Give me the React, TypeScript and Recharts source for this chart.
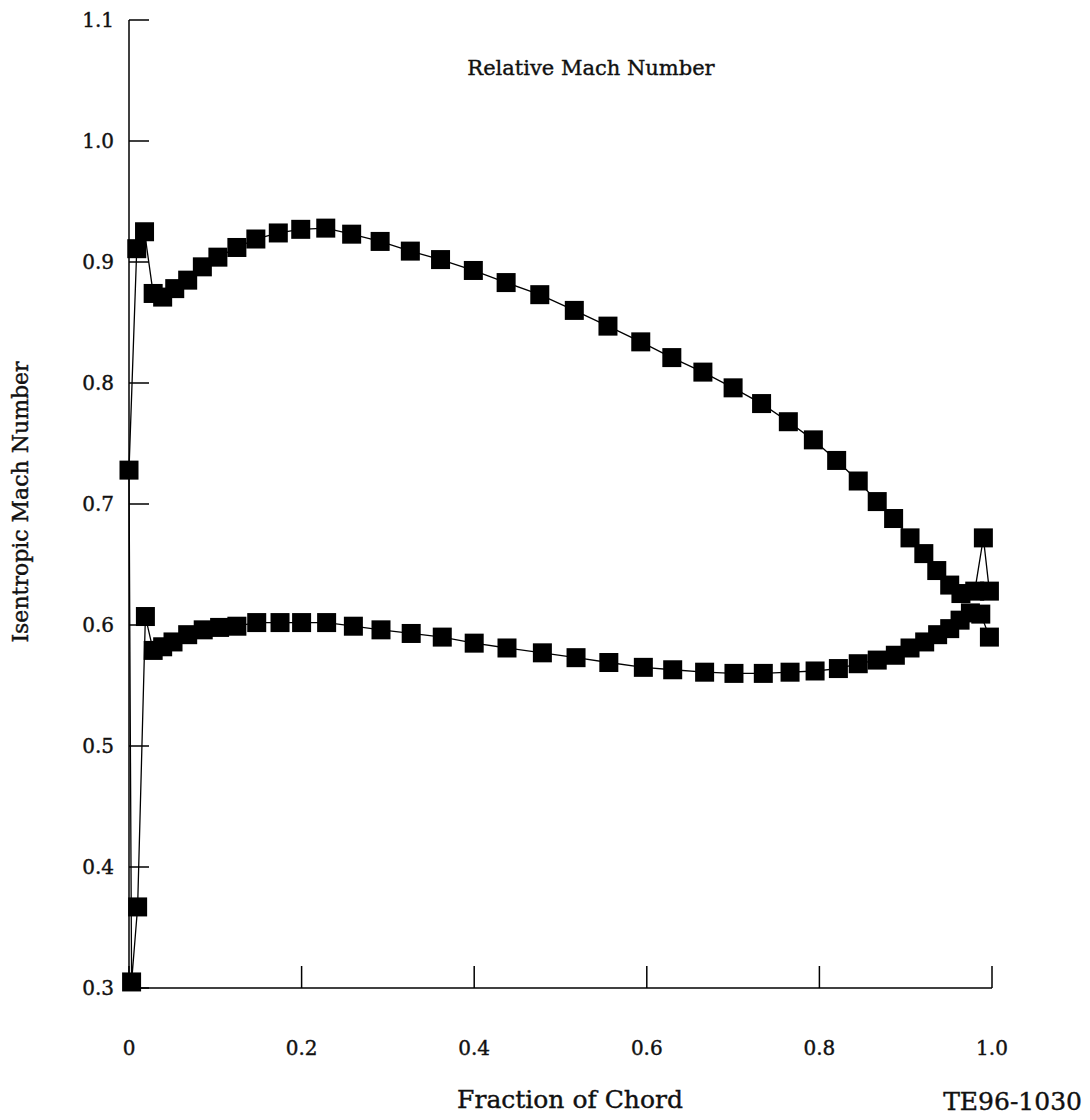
import { LineChart, Line, XAxis, YAxis } from "recharts";

// pressure side, leading edge -> trailing edge
const pressureChord = [
  0.019, 0.028, 0.039, 0.051, 0.068, 0.086, 0.105, 0.125, 0.148, 0.175, 0.2,
  0.229, 0.26, 0.292, 0.327, 0.363, 0.4, 0.438, 0.479, 0.518, 0.556, 0.596,
  0.63, 0.667, 0.701, 0.735, 0.766, 0.795, 0.822, 0.845, 0.867, 0.888, 0.905,
  0.922, 0.937, 0.951, 0.963, 0.975, 0.987, 0.997,
];
const pressureMach = [
  0.607, 0.579, 0.582, 0.586, 0.592, 0.596, 0.598, 0.599, 0.602, 0.602, 0.602,
  0.602, 0.599, 0.596, 0.593, 0.59, 0.585, 0.581, 0.577, 0.573, 0.569, 0.565,
  0.563, 0.561, 0.56, 0.56, 0.561, 0.562, 0.564, 0.568, 0.571, 0.575, 0.581,
  0.586, 0.592, 0.597, 0.604, 0.61, 0.609, 0.59,
];

// around the leading edge, from pressure side to suction side
const leadingChord = [0.01, 0.003, 0.0];
const leadingMach = [0.367, 0.305, 0.728];

// suction side, leading edge -> trailing edge
const suctionChord = [
  0.009, 0.018, 0.028, 0.039, 0.053, 0.068, 0.085, 0.103, 0.125, 0.147, 0.173,
  0.199, 0.228, 0.258, 0.291, 0.326, 0.361, 0.399, 0.437, 0.476, 0.516, 0.555,
  0.593, 0.629, 0.665, 0.7, 0.733, 0.764, 0.793, 0.82, 0.845, 0.867, 0.886,
  0.905, 0.921, 0.936, 0.951, 0.964, 0.98, 0.99, 0.997,
];
const suctionMach = [
  0.911, 0.925, 0.874, 0.871, 0.878, 0.885, 0.896, 0.904, 0.912, 0.919, 0.924,
  0.927, 0.928, 0.923, 0.917, 0.909, 0.902, 0.893, 0.883, 0.873, 0.86, 0.847,
  0.834, 0.821, 0.809, 0.796, 0.783, 0.768, 0.753, 0.736, 0.719, 0.702, 0.688,
  0.672, 0.659, 0.645, 0.633, 0.626, 0.628, 0.672, 0.628,
];

const xTicks = [0, 0.2, 0.4, 0.6, 0.8, 1.0];
const yTicks = [0.3, 0.4, 0.5, 0.6, 0.7, 0.8, 0.9, 1.0, 1.1];

const FONT = "'DejaVu Serif', serif";
const INK = "#111";
const TICK_LEN = 20;
const Y_GAP = 15;
const X_GAP = 60;
const MARK = 19;

// one polyline around the blade: pressure side TE->LE, leading edge, suction side LE->TE
const surface = [
  ...pressureChord.map((c, i) => ({ chord: c, mach: pressureMach[i] })).reverse(),
  ...leadingChord.map((c, i) => ({ chord: c, mach: leadingMach[i] })),
  ...suctionChord.map((c, i) => ({ chord: c, mach: suctionMach[i] })),
];

const textStyle = { fontFamily: FONT, fill: INK, stroke: INK, strokeWidth: 0.4 };

function YTick({ x, y, payload }: any) {
  const axisX = x + Y_GAP;
  return (
    <g>
      <line x1={axisX} x2={axisX + TICK_LEN} y1={y} y2={y} stroke="#000" strokeWidth={1.5} />
      <text x={x} y={y} dy="0.36em" textAnchor="end" fontSize={20} {...textStyle}>
        {Number(payload.value).toFixed(1)}
      </text>
    </g>
  );
}

function XTick({ x, y, payload }: any) {
  const axisY = y - X_GAP;
  const v = Number(payload.value);
  return (
    <g>
      <line x1={x} x2={x} y1={axisY} y2={axisY - TICK_LEN - 2} stroke="#000" strokeWidth={1.5} />
      <text x={x} y={y} dy="0.36em" textAnchor="middle" fontSize={20} {...textStyle}>
        {v === 0 ? "0" : v.toFixed(1)}
      </text>
    </g>
  );
}

function SquareDot({ cx, cy, index }: any) {
  return <rect key={`sq-${index}`} x={cx - MARK / 2} y={cy - MARK / 2} width={MARK} height={MARK} fill="#000" />;
}

export default function App() {
  return (
    <div style={{ position: "absolute", left: 0, top: 0, width: 1090, height: 1120, background: "#fff" }}>
      <LineChart
        width={1090}
        height={1120}
        data={surface}
        margin={{ top: 20, right: 98, bottom: 52, left: 49 }}
      >
        <XAxis
          dataKey="chord"
          type="number"
          domain={[0, 1]}
          ticks={xTicks}
          interval={0}
          height={80}
          tickSize={0}
          tickMargin={X_GAP}
          tick={<XTick />}
          axisLine={{ stroke: "#000", strokeWidth: 1.5 }}
        />
        <YAxis
          type="number"
          domain={[0.3, 1.1]}
          ticks={yTicks}
          interval={0}
          width={80}
          tickSize={0}
          tickMargin={Y_GAP}
          tick={<YTick />}
          axisLine={{ stroke: "#000", strokeWidth: 1.5 }}
        />
        <Line
          dataKey="mach"
          type="linear"
          stroke="#000"
          strokeWidth={1.3}
          dot={<SquareDot />}
          activeDot={false}
          isAnimationActive={false}
        />
      </LineChart>
      <svg
        width={1090}
        height={1120}
        style={{ position: "absolute", left: 0, top: 0, pointerEvents: "none" }}
      >
        <text x={591} y={75} textAnchor="middle" fontSize={21} {...textStyle}>
          Relative Mach Number
        </text>
        <text
          x={0}
          y={0}
          transform="translate(28, 502) rotate(-90)"
          textAnchor="middle"
          fontSize={22}
          {...textStyle}
        >
          Isentropic Mach Number
        </text>
        <text x={570} y={1108} textAnchor="middle" fontSize={25} {...textStyle}>
          Fraction of Chord
        </text>
        <text x={1082} y={1110} textAnchor="end" fontSize={25} {...textStyle}>
          TE96-1030
        </text>
      </svg>
    </div>
  );
}
